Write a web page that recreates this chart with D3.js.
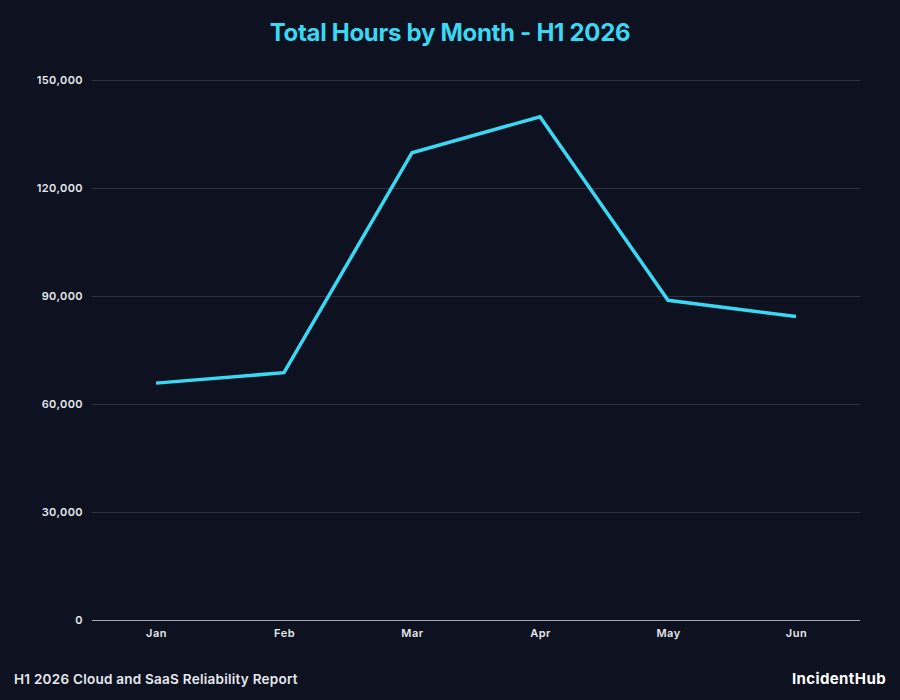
<!DOCTYPE html>
<html>
<head>
<meta charset="utf-8">
<script src="https://cdn.jsdelivr.net/npm/d3@7"></script>
<style>
  body { margin: 0; background: #0d1120; }
  svg { display: block; font-family: Inter, "Liberation Sans", sans-serif; }
</style>
</head>
<body>
<svg id="chart" width="900" height="700"></svg>
<script>
'use strict'

/****** DATA ******/

const months = ['Jan', 'Feb', 'Mar', 'Apr', 'May', 'Jun']
const totalHours = [65800, 68700, 129800, 139800, 88800, 84300]
const yTicks = [0, 30000, 60000, 90000, 120000, 150000]

/****** CHART ******/

const width = 900, height = 700
const margin = {top: 80, right: 40, bottom: 80, left: 92}

const svg = d3.select('#chart')

svg.append('rect')
  .attr('width', width)
  .attr('height', height)
  .attr('fill', '#0d1120')

const x = d3.scalePoint()
  .domain(months)
  .range([margin.left, width - margin.right])
  .padding(0.5)

const y = d3.scaleLinear()
  .domain([0, 150000])
  .range([height - margin.bottom, margin.top])

const fmt = d3.format(',')

// gridlines
svg.append('g')
  .selectAll('line')
  .data(yTicks.filter(d => d > 0))
  .join('line')
    .attr('x1', margin.left)
    .attr('x2', width - margin.right)
    .attr('y1', d => y(d) + 0.5)
    .attr('y2', d => y(d) + 0.5)
    .attr('stroke', '#2c3242')
    .attr('stroke-width', 1)

// baseline
svg.append('line')
  .attr('x1', margin.left)
  .attr('x2', width - margin.right)
  .attr('y1', y(0) + 0.5)
  .attr('y2', y(0) + 0.5)
  .attr('stroke', '#a3aabb')
  .attr('stroke-width', 1)

// y axis labels
const yAxis = svg.append('g')
  .attr('transform', `translate(${margin.left},0)`)
  .call(d3.axisLeft(y).tickValues(yTicks).tickFormat(fmt).tickSize(0).tickPadding(9))
yAxis.select('.domain').remove()
yAxis.selectAll('text')
  .attr('fill', '#e6e8ee')
  .attr('font-size', 11)
  .attr('font-weight', 600)
  .attr('letter-spacing', 0.4)
  .attr('font-family', 'Inter, sans-serif')

// x axis labels
const xAxis = svg.append('g')
  .attr('transform', `translate(0,${y(0)})`)
  .call(d3.axisBottom(x).tickSize(0).tickPadding(9))
xAxis.select('.domain').remove()
xAxis.selectAll('text')
  .attr('fill', '#e6e8ee')
  .attr('font-size', 11)
  .attr('font-weight', 600)
  .attr('letter-spacing', 0.5)
  .attr('font-family', 'Inter, sans-serif')

// line
const line = d3.line()
  .x((d, i) => x(months[i]))
  .y(d => y(d))

svg.append('path')
  .datum(totalHours)
  .attr('d', line)
  .attr('fill', 'none')
  .attr('stroke', '#3ad8f2')
  .attr('stroke-width', 3.5)
  .attr('stroke-linejoin', 'miter')

// title
svg.append('text')
  .attr('x', width / 2)
  .attr('y', 41)
  .attr('text-anchor', 'middle')
  .attr('fill', '#3ad8f2')
  .attr('font-size', 24)
  .attr('font-weight', 700)
  .attr('letter-spacing', -0.3)
  .text('Total Hours by Month - H1 2026')

// footer
svg.append('text')
  .attr('x', 14)
  .attr('y', 684)
  .attr('fill', '#e6e8ee')
  .attr('font-size', 13.5)
  .attr('font-weight', 600)
  .attr('letter-spacing', 0.25)
  .text('H1 2026 Cloud and SaaS Reliability Report')

svg.append('text')
  .attr('x', 886)
  .attr('y', 684)
  .attr('text-anchor', 'end')
  .attr('fill', '#ffffff')
  .attr('font-size', 15)
  .attr('font-weight', 700)
  .attr('letter-spacing', 0.4)
  .text('IncidentHub')
</script>
</body>
</html>
